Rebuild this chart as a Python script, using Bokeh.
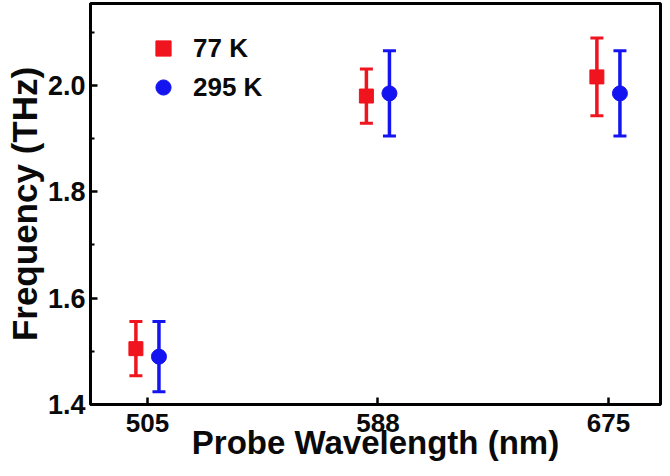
from bokeh.plotting import figure
from bokeh.models import (ColumnDataSource, Whisker, TeeHead, Range1d, FixedTicker,
                          Legend, LegendItem, PrintfTickFormatter)
from bokeh.embed import file_html
from bokeh.resources import INLINE
import numpy as np

# ---- data ----
wavelengths = ["505", "588", "675"]          # probe wavelength (nm), tick labels
freq_77K = [1.505, 1.980, 2.016]             # THz
err_77K = [0.051, 0.051, 0.073]
freq_295K = [1.490, 1.985, 1.985]            # THz
err_295K = [0.066, 0.080, 0.080]
y_ticks = [1.4, 1.6, 1.8, 2.0]
y_minor = [1.5, 1.7, 1.9, 2.1]

RED = "#f0141e"
BLUE = "#1414f0"
FONT = "Liberation Sans"
TXT = "#0a0a0a"

idx = np.arange(len(wavelengths))
off = 0.05

p = figure(width=662, height=468, output_backend="svg", toolbar_location=None,
           x_range=Range1d(-0.247, 2.226), y_range=Range1d(1.4, 2.154),
           min_border_left=90, min_border_right=2, min_border_top=3,
           min_border_bottom=64)

src77 = ColumnDataSource(dict(x=idx - off, y=freq_77K,
                              upper=np.add(freq_77K, err_77K),
                              lower=np.subtract(freq_77K, err_77K)))
src295 = ColumnDataSource(dict(x=idx + off, y=freq_295K,
                               upper=np.add(freq_295K, err_295K),
                               lower=np.subtract(freq_295K, err_295K)))

for src, col in ((src77, RED), (src295, BLUE)):
    w = Whisker(source=src, base="x", upper="upper", lower="lower",
                dimension="height", line_color=col, line_width=3.5,
                upper_head=TeeHead(size=13, line_color=col, line_width=3),
                lower_head=TeeHead(size=13, line_color=col, line_width=3))
    p.add_layout(w)

r77 = p.scatter("x", "y", source=src77, marker="square", size=14,
                fill_color=RED, line_color=RED)
r295 = p.scatter("x", "y", source=src295, marker="circle", size=15,
                 fill_color=BLUE, line_color=BLUE)

legend = Legend(items=[LegendItem(label="77 K", renderers=[r77]),
                       LegendItem(label="295 K", renderers=[r295])],
                location=(54, 298), border_line_color=None,
                background_fill_alpha=0, padding=0, margin=0, spacing=1,
                glyph_width=38, glyph_height=38, label_height=38,
                label_standoff=11, label_text_font=FONT,
                label_text_font_style="bold", label_text_font_size="26px",
                label_text_color=TXT)
p.add_layout(legend)

p.xgrid.visible = False
p.ygrid.visible = False
p.outline_line_color = "black"
p.outline_line_width = 3

# x axis
xa = p.xaxis[0]
xa.ticker = FixedTicker(ticks=[int(i) for i in idx])
xa.major_label_overrides = {int(i): w for i, w in zip(idx, wavelengths)}
xa.axis_label = "Probe Wavelength (nm)"
xa.axis_label_text_font = FONT
xa.axis_label_text_font_style = "bold"
xa.axis_label_text_font_size = "33px"
xa.axis_label_text_color = TXT
xa.axis_label_standoff = -11
xa.major_label_text_font = FONT
xa.major_label_text_font_style = "bold"
xa.major_label_text_font_size = "26px"
xa.major_label_text_color = TXT
xa.major_label_standoff = 9
xa.major_tick_in = 7
xa.major_tick_out = 0
xa.major_tick_line_width = 2.5
xa.minor_tick_line_color = None
xa.axis_line_width = 3

# y axis
ya = p.yaxis[0]
ya.ticker = FixedTicker(ticks=y_ticks, minor_ticks=y_minor)
ya.formatter = PrintfTickFormatter(format="%.1f")
ya.axis_label = "Frequency (THz)"
ya.axis_label_text_font = FONT
ya.axis_label_text_font_style = "bold"
ya.axis_label_text_font_size = "35px"
ya.axis_label_text_color = TXT
ya.axis_label_standoff = 1
ya.major_label_text_font = FONT
ya.major_label_text_font_style = "bold"
ya.major_label_text_font_size = "27px"
ya.major_label_text_color = TXT
ya.major_label_standoff = 5
ya.major_tick_in = 7
ya.major_tick_out = 0
ya.major_tick_line_width = 2.5
ya.minor_tick_in = 4
ya.minor_tick_out = 0
ya.minor_tick_line_width = 2
ya.axis_line_width = 3

open("out.html", "w").write(file_html(p, INLINE))
